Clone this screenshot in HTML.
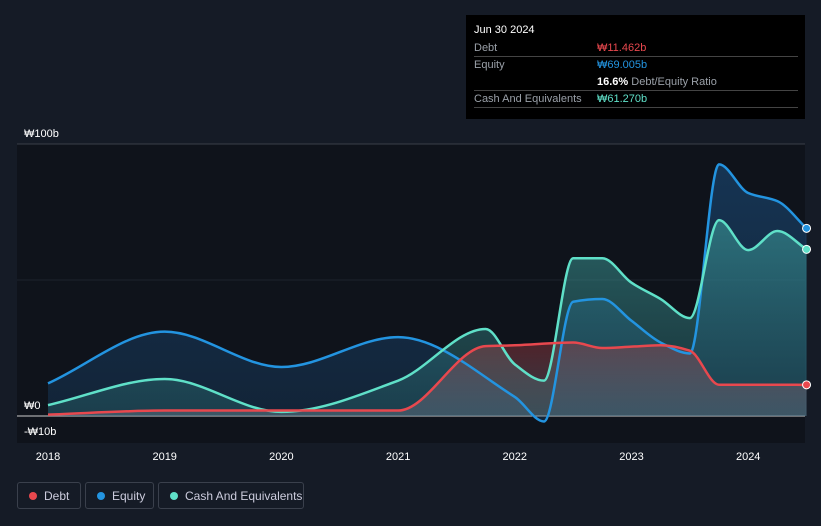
<!DOCTYPE html>
<html><head><meta charset="utf-8"><style>
body{margin:0;width:821px;height:526px;background:#151b26;font-family:"Liberation Sans","Noto Sans CJK KR",sans-serif;overflow:hidden;position:relative}
.tip{position:absolute;left:466px;top:15px;width:339px;height:104px;background:#000;color:#fff;font-size:11px}
.row{position:absolute;left:8px;width:324px;border-bottom:1px solid #444;height:16px}
.lab{position:absolute;left:0;top:2px;color:#9aa0a8}
.val{position:absolute;left:123px;top:2px}
.leg{position:absolute;top:482px;height:27px;border:1px solid #3a404c;border-radius:3px;color:#ccd;font-size:12px;line-height:27px;box-sizing:border-box;padding-left:26px}
.leg i{position:absolute;left:11px;top:9px;width:8px;height:8px;border-radius:50%}
</style></head><body>
<svg id="chart" width="821" height="526" style="position:absolute;left:0;top:0">
<defs>
<linearGradient id="gE" x1="0" y1="0" x2="0" y2="1"><stop offset="0" stop-color="#1a4a78" stop-opacity="0.6"/><stop offset="1" stop-color="#1a4a78" stop-opacity="0.3"/></linearGradient>
<linearGradient id="gC" x1="0" y1="0" x2="0" y2="1"><stop offset="0" stop-color="#3fa3a0" stop-opacity="0.55"/><stop offset="1" stop-color="#2b6e72" stop-opacity="0.35"/></linearGradient>
<linearGradient id="gD" x1="0" y1="0" x2="0" y2="1"><stop offset="0" stop-color="#b03a40" stop-opacity="0.4"/><stop offset="1" stop-color="#8a8ea0" stop-opacity="0.3"/></linearGradient>
</defs>
<rect x="17" y="144" width="788" height="299" fill="#0f131b"/>
<g id="grid"></g><g id="areas"></g><g id="lines"></g><g id="axes"></g>
</svg>
<div class="tip">
<div style="position:absolute;left:8px;top:9px;font-size:11px">Jun 30 2024</div>
<div class="row" style="top:25px"><span class="lab">Debt</span><span class="val" style="color:#e8484e">₩11.462b</span></div>
<div class="row" style="top:42px;border:none"><span class="lab">Equity</span><span class="val" style="color:#2394e0">₩69.005b</span></div>
<div class="row" style="top:59px"><span class="val" style="color:#fff"><b>16.6%</b> <span style="color:#9aa0a8">Debt/Equity Ratio</span></span></div>
<div class="row" style="top:76px"><span class="lab">Cash And Equivalents</span><span class="val" style="color:#5fe0c8">₩61.270b</span></div>
</div>
<div class="leg" style="left:17px;width:64px"><i style="background:#e8484e"></i>Debt</div>
<div class="leg" style="left:85px;width:69px"><i style="background:#2394e0"></i>Equity</div>
<div class="leg" style="left:158px;width:146px"><i style="background:#5fe0c8"></i>Cash And Equivalents</div>
<script>
const equityT=[2018,2019,2020,2021,2022,2022.25,2022.5,2022.75,2023,2023.25,2023.5,2023.75,2024,2024.25,2024.5];
const equityV=[12,31,18,29,7,-2,42,43,35,27,23,92.5,82,79,69];
const cashT=[2018,2019,2020,2021,2021.75,2022,2022.25,2022.5,2022.75,2023,2023.25,2023.5,2023.75,2024,2024.25,2024.5];
const cashV=[4,13.6,1.5,13,32,19,13,58,58,49,43,36,72,61,68,61.27];
const debtT=[2018,2019,2020,2021,2021.75,2022,2022.5,2022.75,2023,2023.25,2023.5,2023.75,2024,2024.5];
const debtV=[0.5,2,2,2,25.7,26,27,25,25.5,26,24,11.5,11.5,11.46];
const yTicks=[100,0,-10];
const yTickLabels=["₩100b","₩0","-₩10b"];
const xTicks=[2018,2019,2020,2021,2022,2023,2024];
const NS="http://www.w3.org/2000/svg";
const X=t=>48+(t-2018)*116.7, Y=v=>416-v*2.72;
function mk(tag,attrs,parent){const e=document.createElementNS(NS,tag);for(const k in attrs)e.setAttribute(k,attrs[k]);document.getElementById(parent).appendChild(e);return e;}
function mono(xs,ys){const n=xs.length,d=[],m=[];for(let i=0;i<n-1;i++)d.push((ys[i+1]-ys[i])/(xs[i+1]-xs[i]));
m[0]=d[0];m[n-1]=d[n-2];for(let i=1;i<n-1;i++){m[i]=d[i-1]*d[i]<=0?0:2/(1/d[i-1]+1/d[i]);}
let p="M"+xs[0]+","+ys[0];for(let i=0;i<n-1;i++){const h=(xs[i+1]-xs[i])/3;p+=" C"+(xs[i]+h)+","+(ys[i]+m[i]*h)+" "+(xs[i+1]-h)+","+(ys[i+1]-m[i+1]*h)+" "+xs[i+1]+","+ys[i+1];}return p;}
function series(T,V,col,grad,name){const xs=T.map(X),ys=V.map(Y);const p=mono(xs,ys);
const a=mk("path",{d:p+" L"+xs[xs.length-1]+","+Y(0)+" L"+xs[0]+","+Y(0)+"Z",fill:"url(#"+grad+")"},"areas");


const l=mk("path",{d:p,fill:"none",stroke:col,"stroke-width":2.5},"lines");


const c=mk("circle",{cx:xs[xs.length-1],cy:ys[ys.length-1],r:4,fill:col,stroke:"#fff","stroke-width":1},"lines");

}
yTicks.forEach((v,i)=>{if(v!==-10){const g=mk("line",{x1:17,x2:805,y1:Y(v),y2:Y(v),stroke:v===0?"#ccc":"#3a3f48","stroke-width":1},"grid");

}
const t=mk("text",{x:24,y:v===-10?Y(v)-8:Y(v)-7,fill:"#fff","font-size":11},"axes");t.textContent=yTickLabels[i];

});
mk("line",{x1:17,x2:805,y1:Y(50),y2:Y(50),stroke:"#1e232c","stroke-width":1},"grid");
series(equityT,equityV,"#2394e0","gE","equity");
series(cashT,cashV,"#5fe0c8","gC","cash");
series(debtT,debtV,"#e8484e","gD","debt");
xTicks.forEach(y=>{const t=mk("text",{x:X(y),y:460,fill:"#fff","font-size":11,"text-anchor":"middle"},"axes");t.textContent=y;

});
</script>
</body></html>
